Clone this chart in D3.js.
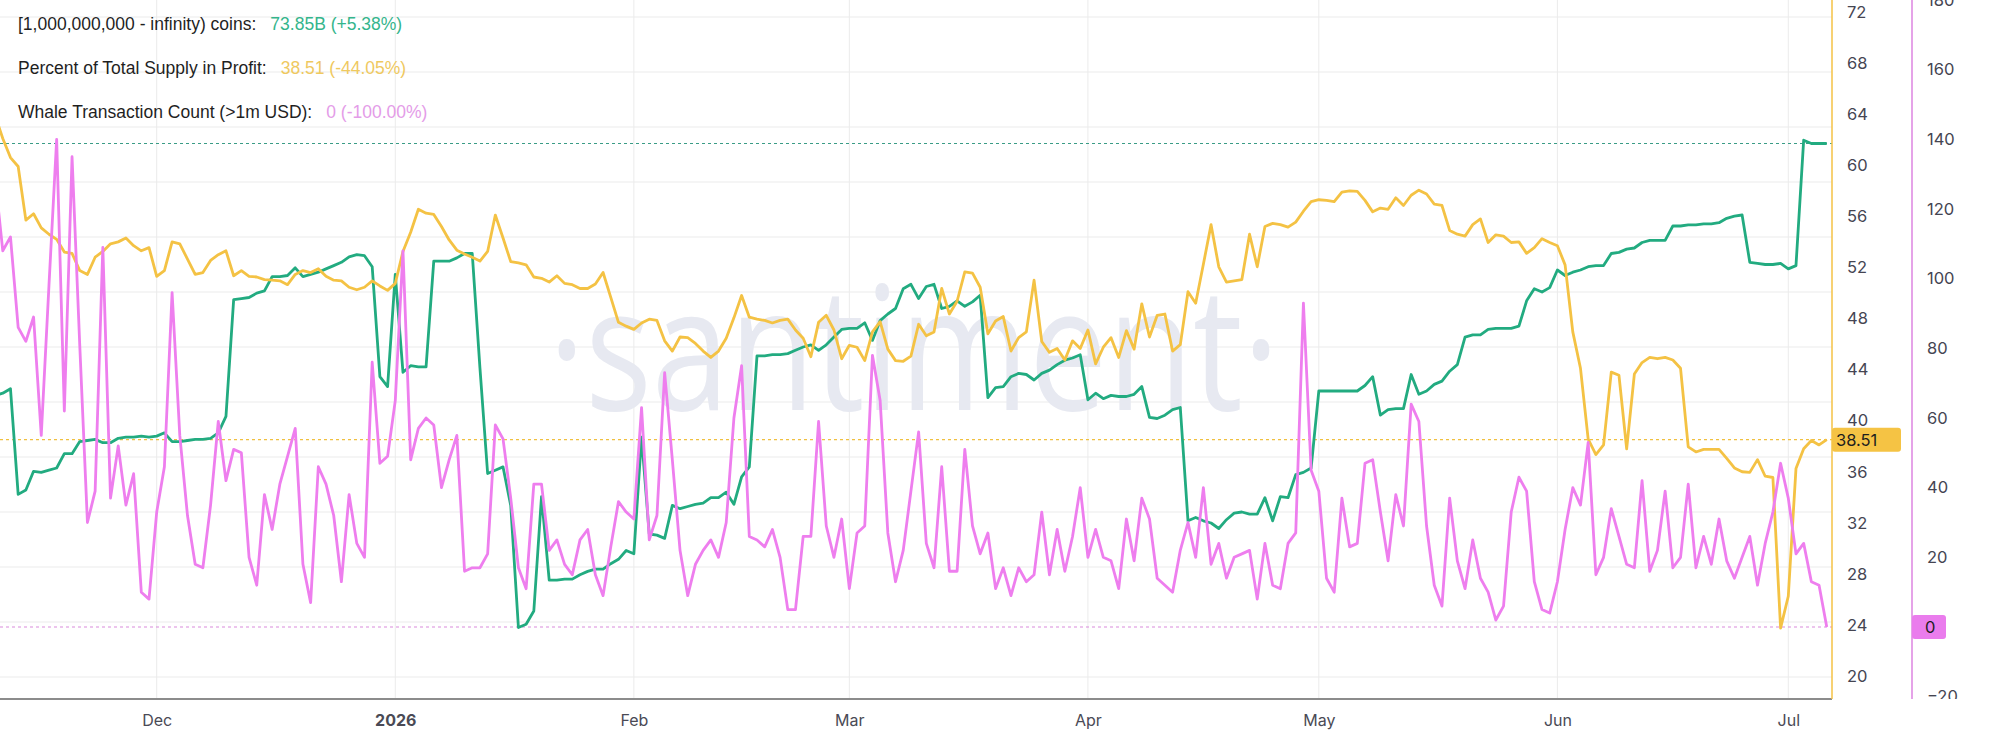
<!DOCTYPE html>
<html>
<head>
<meta charset="utf-8">
<script src="https://cdn.jsdelivr.net/npm/d3@7"></script>
<style>
  body { margin: 0; background: #fff; }
  svg { display: block; }
</style>
</head>
<body>
<div id="wrapper"></div>
<script>
// daily series, first day .. last day
const firstDay = "2025-11-10";
const lastDay = "2026-07-06";

// Whale Transaction Count (>1m USD)
const whaleCounts = [
  129,
  108, 112, 86, 82, 89, 55, 98, 140, 62, 135,
  81, 30, 39, 109, 37, 52, 35, 44, 10, 8,
  33, 46, 96, 55, 32, 18, 17, 35, 59, 42,
  51, 50, 20, 12, 38, 28, 41, 49, 57, 18,
  7, 46, 41, 32, 13, 38, 24, 20, 76, 47,
  49, 65, 108, 48, 57, 60, 58, 40, 48, 55,
  16, 17, 17, 21, 58, 54, 37, 17, 11, 41,
  41, 22, 25, 18, 15, 25, 28, 15, 9, 23,
  36, 33, 31, 63, 25, 32, 73, 48, 22, 9,
  18, 22, 25, 20, 30, 60, 75, 26, 25, 23,
  28, 20, 5, 5, 26, 26, 59, 29, 20, 31,
  11, 27, 29, 78, 65, 27, 13, 22, 39, 56,
  24, 17, 46, 16, 16, 51, 29, 21, 27, 11,
  17, 9, 17, 13, 15, 33, 15, 28, 16, 26,
  40, 20, 28, 20, 19, 11, 31, 19, 37, 31,
  14, 12, 10, 22, 30, 20, 40, 18, 24, 14,
  20, 21, 22, 8, 24, 12, 11, 24, 27, 93,
  45, 39, 14, 10, 37, 23, 24, 47, 48, 33,
  19, 38, 29, 64, 59, 29, 12, 6, 37, 19,
  11, 25, 14, 10, 2, 6, 33, 43, 39, 13,
  5, 4, 13, 28, 40, 35, 53, 15, 20, 34,
  26, 18, 17, 42, 16, 22, 39, 17, 20, 41,
  17, 26, 18, 31, 19, 14, 20, 26, 12, 24,
  33, 47, 37, 21, 24, 13, 12, 0
];

// Percent of Total Supply in Profit
const supplyInProfit = [
  63.9,
  62.1, 60.6, 59.9, 55.7, 56.2, 55.1, 54.6, 54.2, 53.2, 53.1,
  51.75, 51.45, 52.8, 53.25, 53.85, 54, 54.3, 53.7, 53.3, 53.55,
  51.3, 51.75, 54, 53.85, 52.65, 51.45, 51.6, 52.55, 53, 53.3,
  51.35, 51.75, 51.3, 51.25, 51.05, 51, 50.95, 50.65, 51.45, 51.75,
  51.6, 51.9, 51.3, 51, 50.95, 50.45, 50.25, 50.45, 50.95, 50.55,
  50.2, 50.75, 53.25, 54.75, 56.55, 56.25, 56.15, 55.2, 54.15, 53.35,
  53.05, 52.8, 52.5, 53.25, 56.1, 54.3, 52.45, 52.35, 52.2, 51.25,
  51.15, 50.85, 51.35, 50.75, 50.65, 50.35, 50.35, 50.7, 51.6, 49.65,
  47.7, 47.4, 47.15, 47.65, 47.95, 47.85, 46.25, 45.45, 46.55, 46.5,
  46.05, 45.45, 44.95, 45.45, 46.45, 48.05, 49.8, 48.1, 47.95, 47.85,
  47.65, 47.85, 47.95, 47.1, 46.45, 45, 47.7, 48.25, 47.1, 44.85,
  45.9, 45.75, 44.7, 46.95, 47.75, 45.6, 44.7, 44.65, 45.05, 47.55,
  46.65, 46.95, 50.35, 48.35, 49.35, 51.65, 51.55, 50.45, 46.8, 47.8,
  48.15, 45.45, 46.5, 46.95, 51, 46.2, 45.35, 45.65, 44.75, 46.25,
  45.65, 47.1, 44.45, 45.75, 46.5, 44.95, 47.05, 45.6, 49.15, 46.55,
  48.25, 48.35, 45.45, 45.95, 50.1, 49.2, 52.25, 55.35, 52.05, 50.85,
  50.95, 51.05, 54.6, 52.05, 55.2, 55.45, 55.35, 55.15, 55.55, 56.4,
  57.15, 57.3, 57.25, 57.15, 57.9, 58, 57.95, 57.25, 56.35, 56.65,
  56.55, 57.45, 56.85, 57.65, 58.05, 57.75, 56.95, 56.85, 54.9, 54.6,
  54.45, 55.35, 55.8, 53.95, 54.55, 54.45, 53.95, 54, 53.1, 53.55,
  54.25, 53.95, 53.7, 52.2, 46.95, 44.1, 38.55, 37.35, 38.1, 43.8,
  43.55, 37.8, 43.65, 44.55, 44.95, 44.85, 44.95, 44.75, 44.1, 37.95,
  37.55, 37.75, 37.75, 37.75, 37.05, 36.3, 36, 35.95, 36.95, 35.65,
  35.55, 23.75, 26.25, 36.25, 37.8, 38.45, 38.1, 38.51
];

// [1,000,000,000 - infinity) coins, billions
const billionPlusCoins = [
  71.56,
  71.58, 71.62, 70.66, 70.7, 70.87, 70.86, 70.88, 70.9, 71.03, 71.03,
  71.14, 71.15, 71.16, 71.13, 71.13, 71.17, 71.18, 71.18, 71.19, 71.18,
  71.19, 71.22, 71.14, 71.14, 71.15, 71.16, 71.16, 71.17, 71.22, 71.37,
  72.43, 72.44, 72.45, 72.49, 72.51, 72.64, 72.64, 72.65, 72.72, 72.64,
  72.66, 72.68, 72.71, 72.74, 72.77, 72.82, 72.84, 72.83, 72.73, 71.73,
  71.64, 72.66, 71.77, 71.83, 71.82, 71.82, 72.78, 72.78, 72.78, 72.81,
  72.85, 72.85, 71.81, 70.85, 70.88, 70.91, 70.56, 69.45, 69.48, 69.6,
  70.64, 69.88, 69.88, 69.89, 69.89, 69.93, 69.96, 69.98, 69.98, 70.03,
  70.07, 70.15, 70.12, 71.18, 70.3, 70.29, 70.26, 70.56, 70.53, 70.55,
  70.57, 70.58, 70.63, 70.63, 70.68, 70.57, 70.82, 70.91, 71.92, 71.92,
  71.93, 71.93, 71.94, 71.97, 72, 72.02, 71.97, 72.02, 72.09, 72.16,
  72.17, 72.17, 72.22, 72.06, 72.24, 72.3, 72.35, 72.53, 72.57, 72.44,
  72.55, 72.57, 72.35, 72.37, 72.42, 72.37, 72.41, 72.47, 71.54, 71.63,
  71.64, 71.73, 71.76, 71.75, 71.7, 71.76, 71.79, 71.84, 71.88, 71.9,
  71.93, 71.52, 71.58, 71.53, 71.56, 71.55, 71.55, 71.57, 71.64, 71.36,
  71.35, 71.38, 71.43, 71.45, 70.42, 70.45, 70.42, 70.4, 70.35, 70.43,
  70.49, 70.5, 70.48, 70.48, 70.63, 70.42, 70.64, 70.63, 70.84, 70.86,
  70.9, 71.6, 71.6, 71.6, 71.6, 71.6, 71.6, 71.65, 71.73, 71.38,
  71.43, 71.44, 71.44, 71.75, 71.57, 71.6, 71.66, 71.69, 71.78, 71.84,
  72.09, 72.11, 72.11, 72.16, 72.17, 72.17, 72.17, 72.19, 72.42, 72.53,
  72.5, 72.54, 72.7, 72.65, 72.68, 72.7, 72.73, 72.74, 72.74, 72.85,
  72.86, 72.89, 72.9, 72.95, 72.97, 72.97, 72.97, 73.1, 73.1, 73.11,
  73.11, 73.12, 73.12, 73.13, 73.17, 73.19, 73.2, 72.77, 72.76, 72.75,
  72.75, 72.76, 72.71, 72.74, 73.88, 73.85, 73.85, 73.85
];

const monthTicks = ["2025-12-01", "2026-01-01", "2026-02-01", "2026-03-01",
                    "2026-04-01", "2026-05-01", "2026-06-01", "2026-07-01"];
const profitTicks = [20, 24, 28, 32, 36, 40, 44, 48, 52, 56, 60, 64, 68, 72];
const whaleTicks = [-20, 0, 20, 40, 60, 80, 100, 120, 140, 160, 180];

const legendLabels = ["[1,000,000,000 - infinity) coins:",
                      "Percent of Total Supply in Profit:",
                      "Whale Transaction Count (>1m USD):"];
const legendValues = ["73.85B (+5.38%)", "38.51 (-44.05%)", "0 (-100.00%)"];

const colors = {
  coins: "#22ab80",
  profit: "#f4c244",
  whale: "#ee7eee"
};
const legendColors = ["#34b58c", "#efc95f", "#e49ce8"];

let dimensions = {
  width: 2000,
  height: 742,
  plotRight: 1832,
  plotBottom: 699,
  whaleAxisX: 1912
};

const parseDay = d3.timeParse("%Y-%m-%d");
const days = d3.timeDay.range(parseDay(firstDay), d3.timeDay.offset(parseDay(lastDay), 1));

const svg = d3.select("#wrapper").append("svg")
    .attr("width", dimensions.width)
    .attr("height", dimensions.height)
    .style("font-family", "Inter, 'Liberation Sans', sans-serif")
;
svg.append("rect").attr("width", dimensions.width).attr("height", dimensions.height).attr("fill", "#fff");

const xScale = d3.scaleTime()
  .domain([new Date(2025, 10, 10, 15, 20), new Date(2026, 6, 6, 16, 20)])
  .range([0, dimensions.plotRight])
;
const profitScale = d3.scaleLinear().domain([24, 72]).range([625, 12]);
const whaleScale = d3.scaleLinear().domain([0, 180]).range([627, 0]);
const coinsScale = d3.scaleLinear().domain([69, 75]).range([677, 17]);

const defs = svg.append("defs");
defs.append("clipPath").attr("id", "plot-clip")
  .append("rect").attr("x", 0).attr("y", 0)
  .attr("width", dimensions.plotRight).attr("height", dimensions.plotBottom);
defs.append("clipPath").attr("id", "axis-clip")
  .append("rect").attr("x", dimensions.plotRight).attr("y", -30)
  .attr("width", 200).attr("height", dimensions.plotBottom + 30);

// grid
const grid = svg.append("g");
grid.selectAll("line.h")
  .data(coinsScale.ticks(12))
  .enter().append("line")
    .attr("x1", 0).attr("x2", dimensions.plotRight)
    .attr("y1", (d) => coinsScale(d)).attr("y2", (d) => coinsScale(d))
    .attr("stroke", "#ebebeb").attr("stroke-width", 1)
;
grid.selectAll("line.v")
  .data(monthTicks.map(parseDay))
  .enter().append("line")
    .attr("x1", (d) => xScale(d)).attr("x2", (d) => xScale(d))
    .attr("y1", 0).attr("y2", dimensions.plotBottom)
    .attr("stroke", "#ebebeb").attr("stroke-width", 1)
;

// watermark
svg.append("text")
  .attr("x", 914).attr("y", 410)
  .attr("text-anchor", "middle")
  .attr("font-family", "'Open Sans', sans-serif")
  .attr("font-size", 172)
  .attr("textLength", 731)
  .attr("lengthAdjust", "spacingAndGlyphs")
  .attr("fill", "#e7e9f1")
  .text("\u00b7santiment\u00b7")
;

// last value guide lines
const lastIdx = days.length - 1;
const guides = [
  {y: coinsScale(billionPlusCoins[lastIdx]), color: "#3a9c86"},
  {y: profitScale(supplyInProfit[lastIdx]), color: "#f0c040"},
  {y: whaleScale(whaleCounts[lastIdx]), color: "#d98bdc"}
];
svg.append("g").selectAll("line")
  .data(guides)
  .enter().append("line")
    .attr("x1", 0).attr("x2", dimensions.plotRight)
    .attr("y1", (d) => d.y).attr("y2", (d) => d.y)
    .attr("stroke", (d) => d.color)
    .attr("stroke-width", 1.2)
    .attr("stroke-dasharray", "3,3")
;

// series
const lines = svg.append("g").attr("clip-path", "url(#plot-clip)");
const series = [
  {values: billionPlusCoins, scale: coinsScale, color: colors.coins},
  {values: supplyInProfit, scale: profitScale, color: colors.profit},
  {values: whaleCounts, scale: whaleScale, color: colors.whale}
];
series.forEach((s) => {
  const lineGen = d3.line()
    .x((d, i) => xScale(days[i]))
    .y((d) => s.scale(d))
  ;
  lines.append("path")
    .datum(s.values)
    .attr("d", lineGen)
    .attr("fill", "none")
    .attr("stroke", s.color)
    .attr("stroke-width", 2.8)
    .attr("stroke-linejoin", "round")
  ;
});

// x axis
svg.append("line")
  .attr("x1", 0).attr("x2", dimensions.plotRight)
  .attr("y1", dimensions.plotBottom).attr("y2", dimensions.plotBottom)
  .attr("stroke", "#8c8c8c").attr("stroke-width", 2)
;
const xAxisGenerator = d3.axisBottom(xScale)
  .tickValues(monthTicks.map(parseDay))
  .tickSize(0)
  .tickFormat((d) => d.getMonth() == 0 ? d3.timeFormat("%Y")(d) : d3.timeFormat("%b")(d))
;
const xAxis = svg.append("g")
  .attr("transform", `translate(0, ${dimensions.plotBottom})`)
  .call(xAxisGenerator)
;
xAxis.select(".domain").remove();
xAxis.selectAll("text")
  .attr("y", 16)
  .attr("font-family", "Inter, sans-serif")
  .attr("font-size", 16)
  .attr("fill", "#4a4a55")
  .attr("font-weight", (d) => d.getMonth() == 0 ? 700 : 400)
;

// right axes
svg.append("line")
  .attr("x1", dimensions.plotRight).attr("x2", dimensions.plotRight)
  .attr("y1", 0).attr("y2", dimensions.plotBottom)
  .attr("stroke", colors.profit).attr("stroke-width", 1.5)
;
svg.append("line")
  .attr("x1", dimensions.whaleAxisX).attr("x2", dimensions.whaleAxisX)
  .attr("y1", 0).attr("y2", dimensions.plotBottom)
  .attr("stroke", "#dc84e0").attr("stroke-width", 1.5)
;

const profitAxis = svg.append("g")
  .attr("transform", `translate(${dimensions.plotRight}, 0)`)
  .call(d3.axisRight(profitScale).tickValues(profitTicks).tickSize(0).tickPadding(15))
;
const whaleAxis = svg.append("g")
  .attr("clip-path", "url(#axis-clip)")
  .append("g")
  .attr("transform", `translate(${dimensions.whaleAxisX}, 0)`)
  .call(d3.axisRight(whaleScale).tickValues(whaleTicks).tickSize(0).tickPadding(15))
;
[profitAxis, whaleAxis].forEach((ax) => {
  ax.select(".domain").remove();
  ax.selectAll("text")
    .attr("font-family", "Inter, sans-serif")
    .attr("font-size", 16.5)
    .attr("fill", "#454552");
});

// last value badges
const profitBadgeY = profitScale(supplyInProfit[lastIdx]);
svg.append("rect")
  .attr("x", dimensions.plotRight).attr("y", profitBadgeY - 12)
  .attr("width", 69).attr("height", 24).attr("rx", 3)
  .attr("fill", "#f5c344")
;
svg.append("text")
  .attr("x", dimensions.plotRight + 4).attr("y", profitBadgeY)
  .attr("dy", "0.36em")
  .attr("font-family", "Inter, sans-serif").attr("font-size", 16.5)
  .attr("fill", "#1e1e1e")
  .text(d3.format(".2f")(supplyInProfit[lastIdx]))
;
const whaleBadgeY = whaleScale(whaleCounts[lastIdx]);
svg.append("rect")
  .attr("x", dimensions.whaleAxisX).attr("y", whaleBadgeY - 12)
  .attr("width", 34).attr("height", 24).attr("rx", 3)
  .attr("fill", "#ea7ced")
;
svg.append("text")
  .attr("x", dimensions.whaleAxisX + 13).attr("y", whaleBadgeY)
  .attr("dy", "0.36em")
  .attr("font-family", "Inter, sans-serif").attr("font-size", 16.5)
  .attr("fill", "#1e1e1e")
  .text(whaleCounts[lastIdx])
;

// legend
const legendGroup = svg.append("g").attr("font-family", "'Liberation Sans', Arial, sans-serif").attr("font-size", 17.5);
legendLabels.forEach((label, i) => {
  const y = 24 + i * 44;
  const t = legendGroup.append("text")
    .attr("x", 18).attr("y", y).attr("dy", "0.36em")
    .attr("fill", "#1f1f1f")
    .text(label)
  ;
  const w = t.node().getComputedTextLength();
  legendGroup.append("text")
    .attr("x", 18 + w + 14).attr("y", y).attr("dy", "0.36em")
    .attr("fill", legendColors[i])
    .text(legendValues[i])
  ;
});
</script>
</body>
</html>
